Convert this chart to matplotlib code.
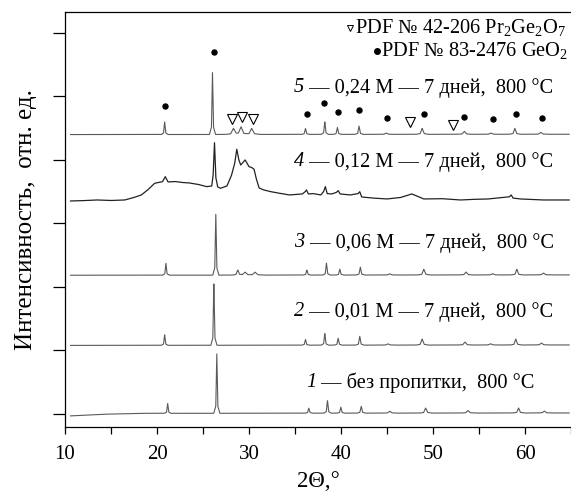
import numpy as np
import matplotlib.pyplot as plt

plt.rcParams['font.family'] = ['Liberation Serif', 'DejaVu Sans']
plt.rcParams['mathtext.fontset'] = 'custom'
plt.rcParams['mathtext.rm'] = 'Liberation Serif'
plt.rcParams['mathtext.it'] = 'Liberation Serif:italic'

# Диапазон съёмки, 2Θ
tt_start, tt_end = 10.6, 64.8

# 1 — без пропитки
base1_x = [10.6, 14.0, 18.0, 64.8]
base1_y = [-0.03, -0.005, 0.01, 0.016]
pk1_pos = [21.16, 26.5, 36.5, 38.53, 39.98, 42.2, 45.3, 49.2, 53.8, 59.3, 62.1]
pk1_h = [0.157, 0.945, 0.08, 0.2, 0.095, 0.11, 0.03, 0.08, 0.04, 0.08, 0.03]
pk1_w = [0.12, 0.11, 0.14, 0.13, 0.14, 0.15, 0.25, 0.22, 0.25, 0.2, 0.25]

# 2 — 0,01 М
base2_x = [10.6, 64.8]
base2_y = [1.08, 1.087]
pk2_pos = [20.83, 26.18, 36.14, 38.24, 39.69, 42.04, 45.1, 48.82, 53.48, 56.26, 59.0, 61.79]
pk2_h = [0.168, 0.997, 0.09, 0.184, 0.11, 0.14, 0.02, 0.095, 0.047, 0.02, 0.095, 0.03]
pk2_w = [0.12, 0.11, 0.14, 0.13, 0.14, 0.15, 0.25, 0.22, 0.25, 0.25, 0.2, 0.25]

# 3 — 0,06 М
base3_x = [10.6, 64.8]
base3_y = [2.185, 2.19]
pk3_pos = [20.97, 26.39, 28.78, 29.58, 30.66, 36.29, 38.42, 39.87, 42.1, 45.29,
           49.0, 53.59, 56.48, 59.11, 62.0]
pk3_h = [0.19, 0.98, 0.08, 0.047, 0.047, 0.08, 0.19, 0.095, 0.126, 0.02,
         0.09, 0.047, 0.02, 0.09, 0.03]
pk3_w = [0.12, 0.11, 0.2, 0.3, 0.3, 0.14, 0.13, 0.14, 0.15, 0.25,
         0.22, 0.25, 0.25, 0.2, 0.25]

# 4 — 0,12 М (аморфное гало + пики)
p4_x = [10.6, 12.0, 13.5, 15.0, 16.5, 17.5, 18.3, 19.0, 19.75, 20.3, 20.6, 20.9,
        21.2, 22.0, 22.8, 23.5, 24.5, 25.4, 25.95, 26.1, 26.25, 26.4, 26.6, 26.9,
        27.6, 28.1, 28.45, 28.67, 28.9, 29.1, 29.58, 30.0, 30.3, 30.55, 30.8,
        31.1, 31.6, 32.4, 33.3, 34.4, 35.8, 36.1, 36.25, 36.45, 37.0, 37.8, 38.1,
        38.3, 38.5, 39.0, 39.5, 39.7, 39.9, 41.0, 41.85, 42.04, 42.25, 43.5, 45.0,
        46.5, 47.7, 49.0, 51.0, 53.0, 54.5, 56.0, 58.3, 58.5, 58.7, 59.5, 62.0, 64.8]
p4_y = [3.354, 3.36, 3.37, 3.362, 3.37, 3.41, 3.449, 3.53, 3.633, 3.65, 3.658, 3.737,
        3.654, 3.66, 3.645, 3.638, 3.614, 3.58, 3.59, 3.76, 4.272, 3.72, 3.575, 3.554,
        3.59, 3.76, 3.95, 4.169, 4.0, 3.921, 4.0, 3.895, 3.88, 3.854, 3.7,
        3.559, 3.528, 3.5, 3.476, 3.449, 3.465, 3.5, 3.528, 3.465, 3.47, 3.449, 3.5,
        3.58, 3.47, 3.465, 3.49, 3.517, 3.465, 3.449, 3.47, 3.5, 3.417, 3.4, 3.386,
        3.41, 3.465, 3.386, 3.39, 3.37, 3.38, 3.386, 3.42, 3.449, 3.4, 3.386, 3.37, 3.37]

# 5 — 0,24 М
base5_x = [10.6, 64.8]
base5_y = [4.4, 4.405]
pk5_pos = [20.83, 26.03, 28.31, 29.14, 30.29, 36.14, 38.24, 39.61, 41.96, 44.92,
           48.82, 53.41, 56.3, 58.9, 61.71]
pk5_h = [0.2, 0.986, 0.095, 0.12, 0.095, 0.095, 0.2, 0.11, 0.13, 0.02,
         0.095, 0.047, 0.02, 0.095, 0.03]
pk5_w = [0.12, 0.11, 0.3, 0.3, 0.3, 0.14, 0.13, 0.14, 0.15, 0.25,
         0.22, 0.25, 0.25, 0.2, 0.25]

# Метки фаз над кривой 5
geo2_x = [20.83, 26.25, 36.25, 38.17, 39.69, 41.96, 44.99, 48.97, 53.41, 56.55, 59.0, 61.89]
geo2_y = [4.85, 5.696, 4.724, 4.902, 4.76, 4.787, 4.657, 4.724, 4.682, 4.641, 4.724, 4.657]
prge_x = [28.2, 29.28, 30.48, 47.45, 52.15]
prge_y = [4.641, 4.672, 4.641, 4.603, 4.551]

numbers = ['1', '2', '3', '4', '5']
labels = ['без пропитки,  800 °C',
          '0,01 М — 7 дней,  800 °C',
          '0,06 М — 7 дней,  800 °C',
          '0,12 М — 7 дней,  800 °C',
          '0,24 М — 7 дней,  800 °C']
label_y = [0.493, 1.611, 2.698, 3.973, 5.134]

legend_txt = ['PDF № 42-206 Pr$_2$Ge$_2$O$_7$', 'PDF № 83-2476 GeO$_2$']


def pattern(x, bx, by, pos, h, w):
    y = np.interp(x, bx, by)
    for p, a, s in zip(pos, h, w):
        y += np.interp(x, [p - 3 * s, p - s, p, p + s, p + 3 * s],
                       [0, 0.12 * a, a, 0.12 * a, 0], left=0, right=0)
    return y


x = np.linspace(tt_start, tt_end, 6000)

fig = plt.figure(figsize=(5.71, 4.95), dpi=100)
ax = fig.add_axes([65 / 571, 1 - 427 / 495, 1 - 65 / 571, 415 / 495])

line_kw = dict(color='#5a5a5a', lw=0.8)
ax.plot(x, pattern(x, base1_x, base1_y, pk1_pos, pk1_h, pk1_w), **line_kw)
ax.plot(x, pattern(x, base2_x, base2_y, pk2_pos, pk2_h, pk2_w), **line_kw)
ax.plot(x, pattern(x, base3_x, base3_y, pk3_pos, pk3_h, pk3_w), **line_kw)
ax.plot(p4_x, p4_y, color='#222222', lw=0.9)
ax.plot(x, pattern(x, base5_x, base5_y, pk5_pos, pk5_h, pk5_w), **line_kw)

ax.plot(geo2_x, geo2_y, 'o', ms=3.6, color='k')
ax.plot(prge_x, prge_y, 'v', ms=6.5, mfc='white', mec='k', mew=0.8)

for i, (num, txt, yy) in enumerate(zip(numbers, labels, label_y)):
    xr = 61.03 if i == 0 else 63.1
    t = ax.text(xr, yy, ' — ' + txt, fontsize=14.7, ha='right', va='center')
    ax.annotate(num, xy=(0, 0.5), xycoords=t, fontsize=14.7, style='italic',
                ha='right', va='center')

# легенда фаз
ax.plot([41.0], [6.079], 'v', ms=5, mfc='white', mec='k', mew=0.7, clip_on=False)
ax.text(41.55, 6.079, legend_txt[0], fontsize=14.7, ha='left', va='center')
ax.plot([43.95], [5.72], 'o', ms=4, color='k', clip_on=False)
ax.text(44.4, 5.72, legend_txt[1], fontsize=14.7, ha='left', va='center')

ax.set_xlim(10, 10 + 505 / 9.23)
ax.set_ylim(-0.205, 6.33)
ax.set_xticks(np.arange(10, 61, 10))
ax.set_xticks(np.arange(15, 66, 10), minor=True)
ax.set_yticks(np.arange(0, 7))
ax.set_yticklabels([])
ax.tick_params(axis='x', which='both', direction='out', length=5, width=0.9,
               labelsize=15, pad=8)
ax.tick_params(axis='y', direction='out', length=9, width=0.9)
ax.spines['right'].set_visible(False)
for s in ['left', 'bottom', 'top']:
    ax.spines[s].set_linewidth(0.9)

ax.set_xlabel('2Θ,°', fontsize=16.5, labelpad=5)
ax.set_ylabel('Интенсивность,  отн. ед.', fontsize=18, labelpad=8)

fig.savefig('out.png', dpi=100)
